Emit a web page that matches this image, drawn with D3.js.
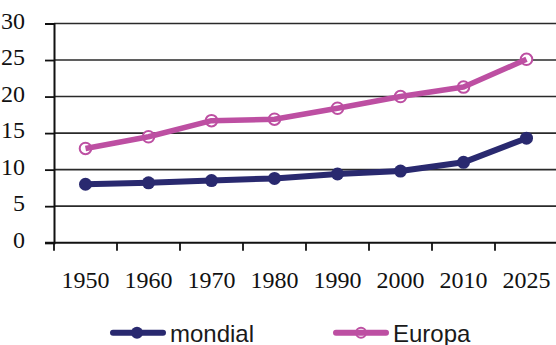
<!DOCTYPE html>
<html>
<head>
<meta charset="utf-8">
<script src="https://cdn.jsdelivr.net/npm/d3@7"></script>
<style>
  html, body { margin: 0; padding: 0; background: #fff; }
  svg { display: block; }
</style>
</head>
<body>
<svg id="chart" width="556" height="345"></svg>
<script>
// Categories and series
const years = ["1950", "1960", "1970", "1980", "1990", "2000", "2010", "2025"];
const mondial = [8.0, 8.2, 8.5, 8.8, 9.4, 9.8, 11.0, 14.3];
const europa = [12.9, 14.5, 16.7, 16.9, 18.4, 20.0, 21.3, 25.1];
const yTicks = [0, 5, 10, 15, 20, 25, 30];

const seriesNames = ["mondial", "Europa"];
const seriesColors = ["#29296f", "#bd4fa2"];

const SERIF = '"Liberation Serif"';
const SANS = '"Liberation Sans"';

const svg = d3.select("#chart");

const plotLeft = 54, plotRight = 558, plotTop = 23.5, plotBottom = 242.7;

const x = d3.scaleBand().domain(years).range([plotLeft, plotRight]).padding(0);
const y = d3.scaleLinear().domain([0, 30]).range([plotBottom, plotTop]);

// Horizontal grid lines
svg.append("g")
  .selectAll("line")
  .data(yTicks.filter(d => d > 0))
  .join("line")
  .attr("x1", plotLeft)
  .attr("x2", 556)
  .attr("y1", d => y(d))
  .attr("y2", d => y(d))
  .attr("stroke", "#2a2a2a")
  .attr("stroke-width", 1.6);

// Y axis
const yAxis = svg.append("g")
  .attr("transform", `translate(${plotLeft},0)`)
  .call(d3.axisLeft(y).tickValues(yTicks).tickSize(9).tickPadding(20).tickFormat(d3.format("d")));
yAxis.attr("font-family", null).attr("font-size", null);
yAxis.select(".domain").attr("stroke", "#111").attr("stroke-width", 2);
yAxis.selectAll(".tick line").attr("stroke", "#111").attr("stroke-width", 1.8);
yAxis.selectAll(".tick text")
  .style("font-family", SERIF)
  .style("font-size", "24px")
  .attr("fill", "#111")
  .attr("dy", "0.2em");

// X axis with ticks between categories
const xAxisG = svg.append("g").attr("transform", `translate(0,${plotBottom})`);
xAxisG.append("line")
  .attr("x1", plotLeft - 9).attr("x2", 556)
  .attr("y1", 0).attr("y2", 0)
  .attr("stroke", "#111").attr("stroke-width", 2);
const boundaries = years.map(d => x(d)).concat([x(years[years.length - 1]) + x.bandwidth()]);
xAxisG.selectAll("line.tk")
  .data(boundaries.filter(b => b <= 556))
  .join("line")
  .attr("class", "tk")
  .attr("x1", d => d).attr("x2", d => d)
  .attr("y1", 0).attr("y2", 8)
  .attr("stroke", "#111").attr("stroke-width", 1.8);
xAxisG.selectAll("text")
  .data(years)
  .join("text")
  .attr("x", d => x(d) + x.bandwidth() / 2)
  .attr("y", 45)
  .attr("text-anchor", "middle")
  .style("font-family", SERIF)
  .style("font-size", "24px")
  .attr("fill", "#111")
  .text(d => d);

const cx = d => x(d) + x.bandwidth() / 2;
const line = d3.line().x((d, i) => cx(years[i])).y(d => y(d));

// mondial: filled markers under line
const gM = svg.append("g");
gM.append("path")
  .datum(mondial)
  .attr("d", line)
  .attr("fill", "none")
  .attr("stroke", seriesColors[0])
  .attr("stroke-width", 6)
  .attr("stroke-linejoin", "round");
gM.selectAll("circle")
  .data(mondial)
  .join("circle")
  .attr("cx", (d, i) => cx(years[i]))
  .attr("cy", d => y(d))
  .attr("r", 6.5)
  .attr("fill", seriesColors[0]);

// Europa: open markers, line drawn over them
const gE = svg.append("g");
gE.selectAll("circle")
  .data(europa)
  .join("circle")
  .attr("cx", (d, i) => cx(years[i]))
  .attr("cy", d => y(d))
  .attr("r", 5.8)
  .attr("fill", "#fff")
  .attr("stroke", seriesColors[1])
  .attr("stroke-width", 2);
gE.append("path")
  .datum(europa)
  .attr("d", line)
  .attr("fill", "none")
  .attr("stroke", seriesColors[1])
  .attr("stroke-width", 5.5)
  .attr("stroke-linejoin", "round");

// Legend
const legendItems = [
  { name: seriesNames[0], color: seriesColors[0], x0: 110, filled: true },
  { name: seriesNames[1], color: seriesColors[1], x0: 333, filled: false }
];
const lg = svg.append("g");
legendItems.forEach(it => {
  const ly = 332.7;
  if (!it.filled) {
    lg.append("circle").attr("cx", it.x0 + 28).attr("cy", ly).attr("r", 5)
      .attr("fill", "#fff").attr("stroke", it.color).attr("stroke-width", 2);
  }
  lg.append("line")
    .attr("x1", it.x0 + 3).attr("x2", it.x0 + 53)
    .attr("y1", ly).attr("y2", ly)
    .attr("stroke", it.color).attr("stroke-width", 6)
    .attr("stroke-linecap", "round");
  if (it.filled) {
    lg.append("circle").attr("cx", it.x0 + 27).attr("cy", ly).attr("r", 6)
      .attr("fill", it.color);
  }
  lg.append("text")
    .attr("x", it.x0 + 60)
    .attr("y", 342.3)
    .style("font-family", SANS)
    .style("font-size", "24px")
    .attr("fill", "#1a1a1a")
    .text(it.name);
});
</script>
</body>
</html>
